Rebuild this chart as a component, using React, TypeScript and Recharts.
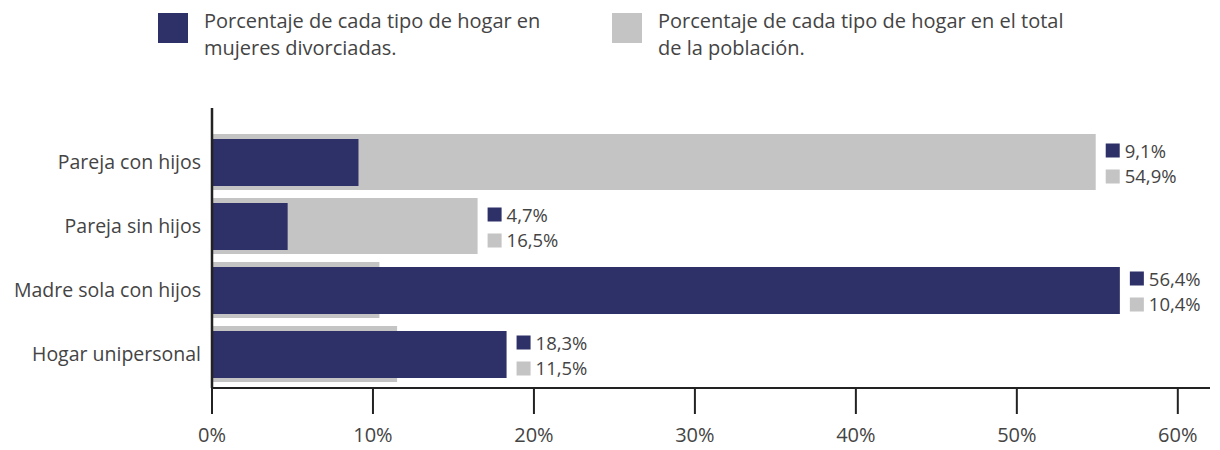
import { Bar, BarChart, LabelList, XAxis, YAxis } from "recharts";

const categories = [
  "Pareja con hijos",
  "Pareja sin hijos",
  "Madre sola con hijos",
  "Hogar unipersonal",
];
const divorciadas = [9.1, 4.7, 56.4, 18.3];
const poblacion = [54.9, 16.5, 10.4, 11.5];
const xTicks = [0, 10, 20, 30, 40, 50, 60];

const NAVY = "#2e3168";
const GRAY = "#c4c4c4";
const TEXT = "#444";
const FONT = "'Open Sans', sans-serif";

const data = categories.map((name, i) => ({
  name,
  divorciadas: divorciadas[i],
  poblacion: poblacion[i],
}));

const fmt = (v: number) => v.toFixed(1).replace(".", ",") + "%";

function ValueLabel(props: any) {
  const { x, y, width, height, index } = props;
  const d = data[index];
  const end = x + (width * Math.max(d.divorciadas, d.poblacion)) / d.divorciadas;
  const cy = y + height / 2;
  const x0 = end + 10;
  return (
    <g fontFamily={FONT} fontSize={18.5} fill={TEXT}>
      <rect x={x0} y={cy - 19} width={14} height={14} fill={NAVY} />
      <text x={x0 + 19} y={cy - 5}>{fmt(d.divorciadas)}</text>
      <rect x={x0} y={cy + 7} width={14} height={14} fill={GRAY} />
      <text x={x0 + 19} y={cy + 20}>{fmt(d.poblacion)}</text>
    </g>
  );
}

function Legend() {
  const item = (color: string, left: number, text: string[]) => (
    <div style={{ position: "absolute", left, top: 13, display: "flex" }}>
      <div style={{ width: 30, height: 30, background: color, marginRight: 16 }} />
      <div style={{ fontSize: 20, lineHeight: "27px", color: TEXT, marginTop: -6 }}>
        {text.map((t) => (
          <div key={t}>{t}</div>
        ))}
      </div>
    </div>
  );
  return (
    <>
      {item(NAVY, 158, ["Porcentaje de cada tipo de hogar en", "mujeres divorciadas."])}
      {item(GRAY, 612, ["Porcentaje de cada tipo de hogar en el total", "de la población."])}
    </>
  );
}

export default function App() {
  return (
    <div style={{ margin: -8, position: "relative", width: 1220, height: 450, fontFamily: FONT, background: "#fff" }}>
      <Legend />
      <BarChart
        width={1220}
        height={450}
        data={data}
        layout="vertical"
        margin={{ top: 108, right: 10, bottom: 0, left: 0 }}
      >
        <XAxis
          type="number"
          domain={[0, 62]}
          ticks={xTicks}
          allowDataOverflow
          tickFormatter={(v) => v + "%"}
          height={62}
          tickSize={26}
          tickMargin={14}
          axisLine={{ stroke: "#222", strokeWidth: 2 }}
          tickLine={{ stroke: "#222", strokeWidth: 2 }}
          tick={{ fill: TEXT, fontSize: 20, fontFamily: FONT }}
        />
        <YAxis
          yAxisId="a"
          type="category"
          dataKey="name"
          width={212}
          padding={{ top: 22, bottom: 2 }}
          tickLine={false}
          tickMargin={5}
          axisLine={{ stroke: "#222", strokeWidth: 2.5 }}
          tick={{ fill: TEXT, fontSize: 19.5, fontFamily: FONT }}
        />
        <YAxis
          yAxisId="b"
          type="category"
          dataKey="name"
          hide
          padding={{ top: 22, bottom: 2 }}
        />
        <Bar yAxisId="a" dataKey="poblacion" fill={GRAY} barSize={56} isAnimationActive={false} />
        <Bar yAxisId="b" dataKey="divorciadas" fill={NAVY} barSize={47} isAnimationActive={false}>
          <LabelList dataKey="divorciadas" content={<ValueLabel />} />
        </Bar>
      </BarChart>
    </div>
  );
}
